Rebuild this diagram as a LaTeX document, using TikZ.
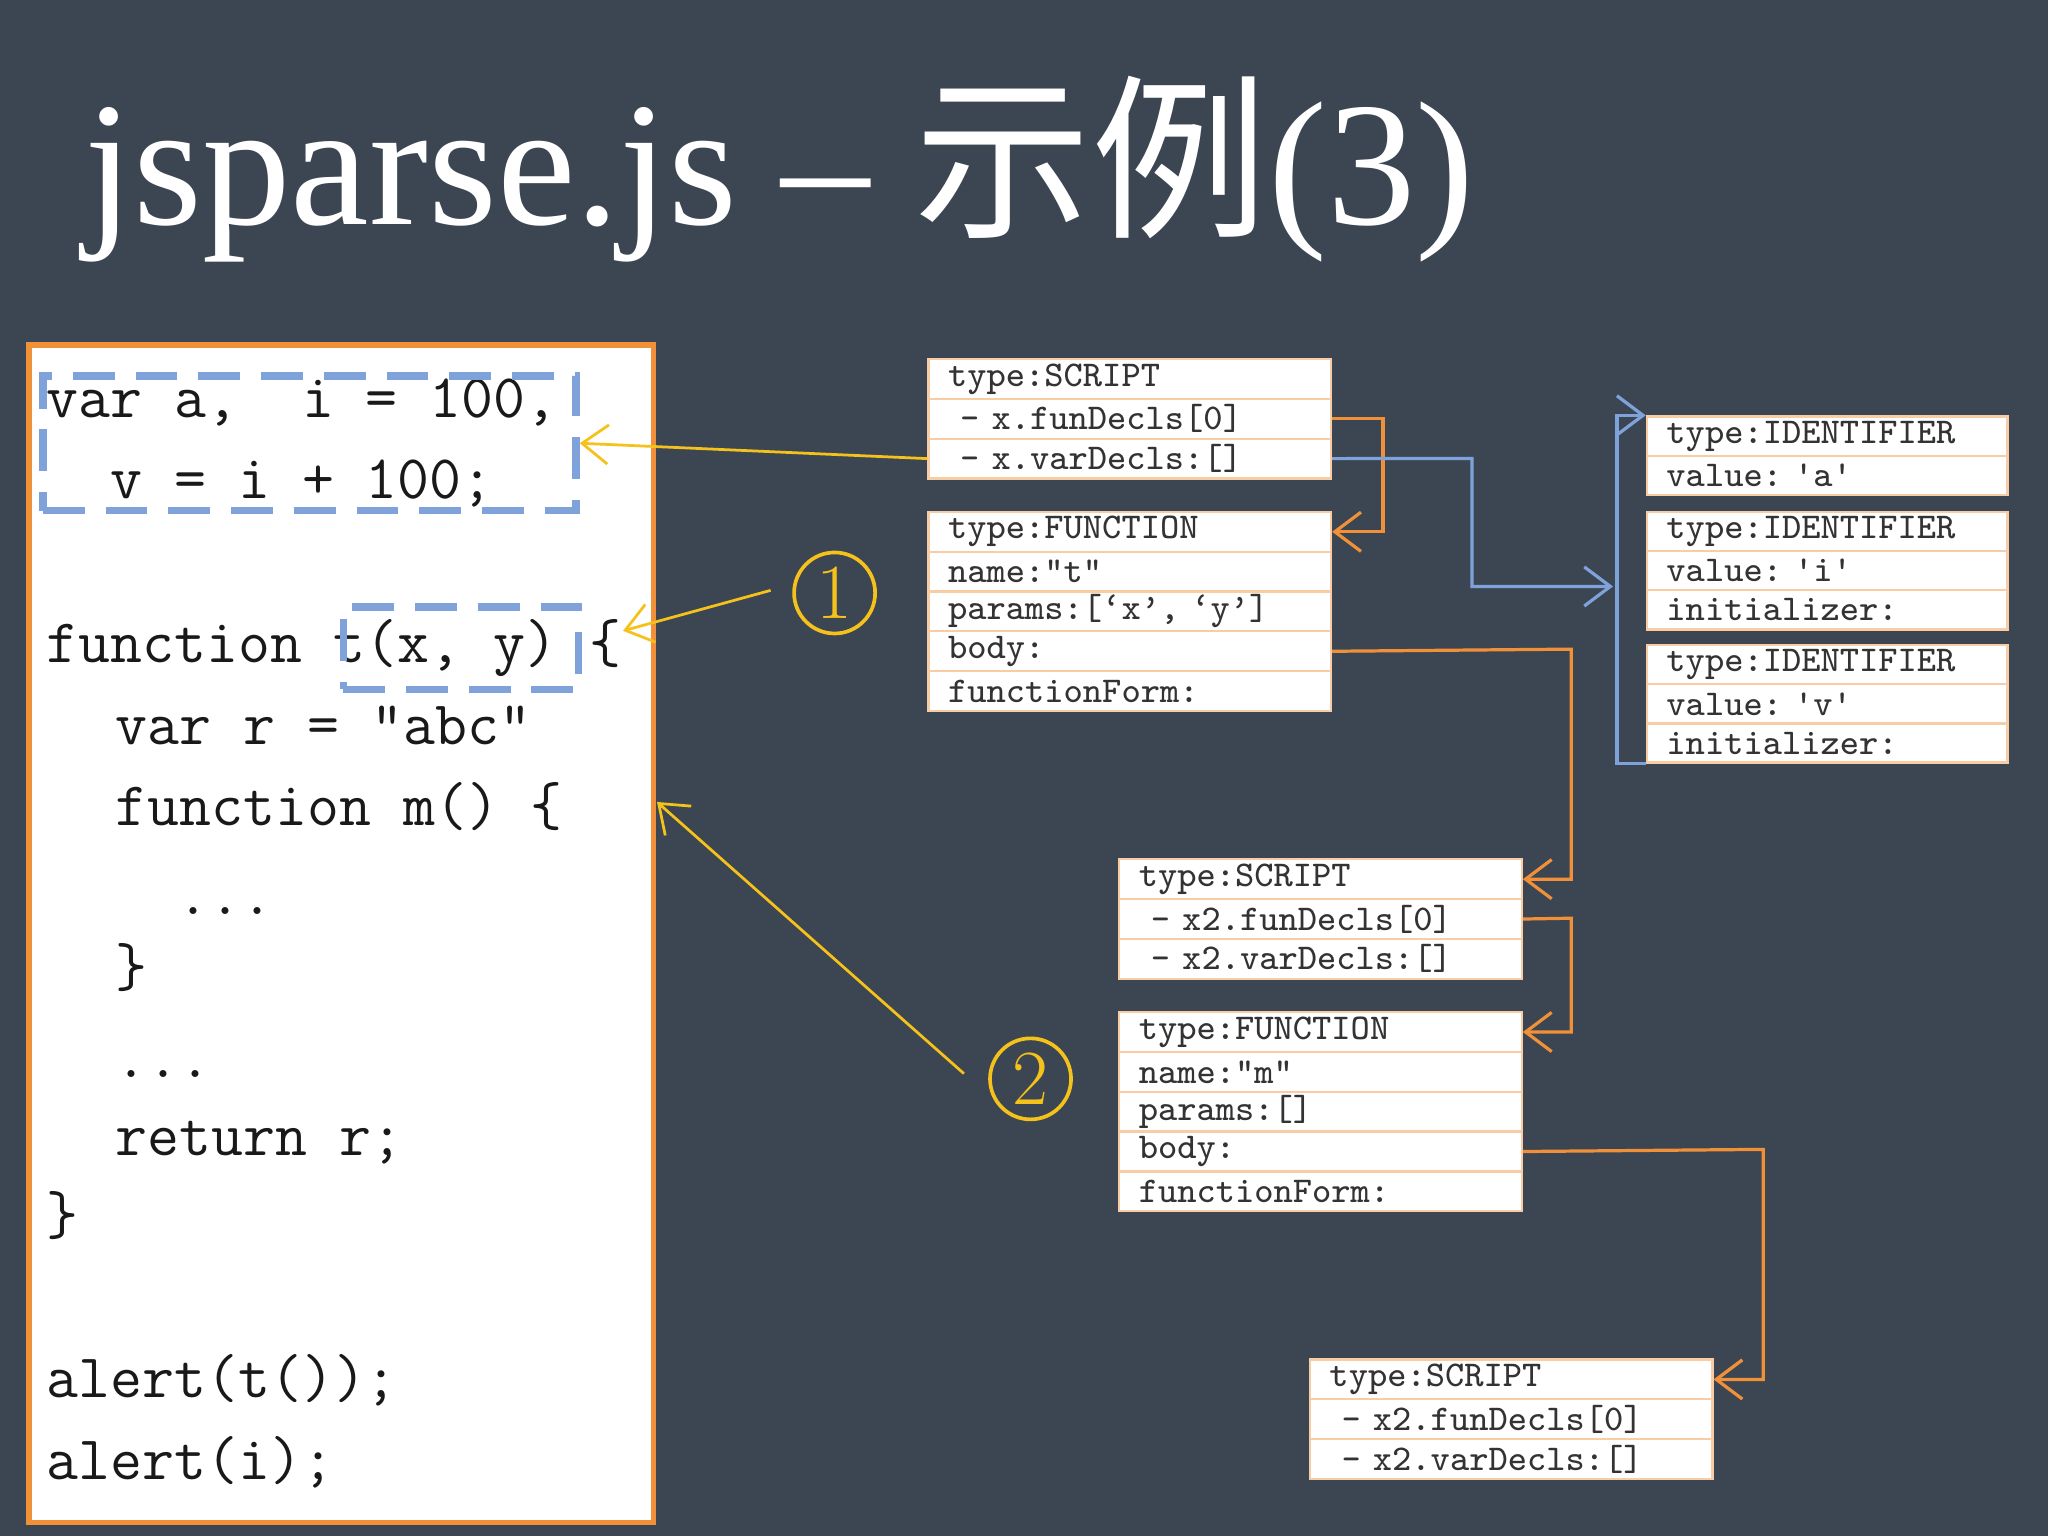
\documentclass[tikz,border=0pt]{standalone}
\usepackage{fontspec}
\newfontfamily\cjk{Noto Sans CJK SC}
\newfontfamily\titlefont{Liberation Serif}
\usetikzlibrary{arrows.meta}
\definecolor{bg}{HTML}{3C4552}
\definecolor{org}{HTML}{F0913A}
\definecolor{blu}{HTML}{7FA2DA}
\definecolor{yel}{HTML}{F5C21B}
\tikzset{
 row/.style={rectangle,fill=white,draw=org!45,line width=0.5pt,anchor=north west,
   minimum height=0.305cm,text width=2.78cm,inner xsep=0.15cm,inner ysep=0pt,align=left,
   font=\ttfamily\fontsize{7.9}{8.5}\selectfont,text=black!80},
 idrow/.style={row,text width=2.46cm,minimum height=0.30cm},
 code/.style={anchor=base west,inner sep=0pt,font=\ttfamily\fontsize{13.5}{14}\selectfont,text=black!90},
 oarr/.style={draw=org,line width=0.7pt,-{Straight Barb[length=2mm,width=3mm]}},
 barr/.style={draw=blu,line width=0.7pt,-{Straight Barb[length=2mm,width=3mm]}},
 yarr/.style={draw=yel,line width=0.6pt,-{Straight Barb[length=2mm,width=3mm]}},
 dbox/.style={draw=blu,line width=1.6pt,dash pattern=on 3.2mm off 1.6mm},
 circ/.style={circle,draw=yel,line width=0.8pt,minimum size=0.62cm,text=yel,inner sep=0pt,font=\fontsize{17}{17}\selectfont}
}
\begin{document}
\begin{tikzpicture}[x=0.01cm,y=-0.01cm]
\fill[bg] (0,0) rectangle (1568,1176);
\useasboundingbox (0,0) rectangle (1568,1176);
\node[anchor=base west,inner sep=0pt,text=white,font=\titlefont\fontsize{38.5}{40}\selectfont] (title) at (64,172) {jsparse.js – {\cjk 示例}(3)};
% code box
\node[draw=org,line width=1.2pt,fill=white,anchor=north west,minimum width=4.78cm,minimum height=9.01cm,inner sep=0pt] (codebox) at (20,262) {};
\node[code] (c1) at (35,320) {var a,\ \ i = 100,};
\node[code] (c2) at (35,382) {\ \ v = i + 100;};
\node[code] (c3) at (35,507) {function t(x, y) \{};
\node[code] (c4) at (88,570) {var r = ”abc”};
\node[code] (c5) at (88,632) {function m() \{};
\node[code] (c6) at (135,700) {...};
\node[code] (c7) at (88,755) {\}};
\node[code] (c8) at (88,825) {...};
\node[code] (c9) at (88,885) {return r;};
\node[code] (c10) at (35,945) {\}};
\node[code] (c11) at (35,1070) {alert(t());};
\node[code] (c12) at (35,1133) {alert(i);};
\node[dbox,anchor=north west,minimum width=4.08cm,minimum height=1.03cm] (d1) at (30,285) {};
\node[dbox,anchor=north west,minimum width=1.80cm,minimum height=0.63cm] (d2) at (260,462) {};
% box1
\node[row] (a1) at (710,274) {type:SCRIPT};
\node[row] (a2) at (710,304.5) {~-~x.funDecls[0]};
\node[row] (a3) at (710,335) {~-~x.varDecls:[]};
% box2
\node[row] (f1) at (710,391) {type:FUNCTION};
\node[row] (f2) at (710,421.5) {name:”t”};
\node[row] (f3) at (710,452) {params:[‘x’, ‘y’]};
\node[row] (f4) at (710,482.5) {body:};
\node[row] (f5) at (710,513) {functionForm:};
% id boxes
\node[idrow] (i1) at (1260,318) {type:IDENTIFIER};
\node[idrow] (i2) at (1260,348) {value:\ {\char39}a{\char39}};
\node[idrow] (j1) at (1260,391) {type:IDENTIFIER};
\node[idrow] (j2) at (1260,421) {value:\ {\char39}i{\char39}};
\node[idrow] (j3) at (1260,451) {initializer:};
\node[idrow] (k1) at (1260,493) {type:IDENTIFIER};
\node[idrow] (k2) at (1260,523) {value:\ {\char39}v{\char39}};
\node[idrow] (k3) at (1260,553) {initializer:};
% box3
\node[row] (s1) at (856,657) {type:SCRIPT};
\node[row] (s2) at (856,687.5) {~-~x2.funDecls[0]};
\node[row] (s3) at (856,718) {~-~x2.varDecls:[]};
% box4
\node[row] (g1) at (856,774) {type:FUNCTION};
\node[row] (g2) at (856,804.5) {name:”m”};
\node[row] (g3) at (856,835) {params:[]};
\node[row] (g4) at (856,865.5) {body:};
\node[row] (g5) at (856,896) {functionForm:};
% box5
\node[row] (t1) at (1002,1040) {type:SCRIPT};
\node[row] (t2) at (1002,1070.5) {~-~x2.funDecls[0]};
\node[row] (t3) at (1002,1101) {~-~x2.varDecls:[]};
% connectors
\draw[oarr] (a2.east) -- ++(39,0) |- (f1.east);
\draw[barr] (a3.east) -- (1127,351) -- (1127,449) coordinate (bm) -- (1235,449);
\draw[barr] (k3.south west) -- ++(-22,0) |- (i1.north west);
\draw[oarr] (f4.east) -- (1203,497) |- (s1.east);
\draw[oarr] (s2.east) -- (1203,703) |- (g1.east);
\draw[oarr] (g4.east) -- (1350,880) |- (t1.east);
\node[circ] (n1) at (639,454) {1};
\node[circ] (n2) at (789,826) {2};
\draw[yarr] (a3.west) -- (d1.east);
\draw[yarr] (590,452) coordinate (y1) -- (477,483);
\draw[yarr] (738,822) coordinate (y2) -- (503,614);
\end{tikzpicture}
\end{document}
